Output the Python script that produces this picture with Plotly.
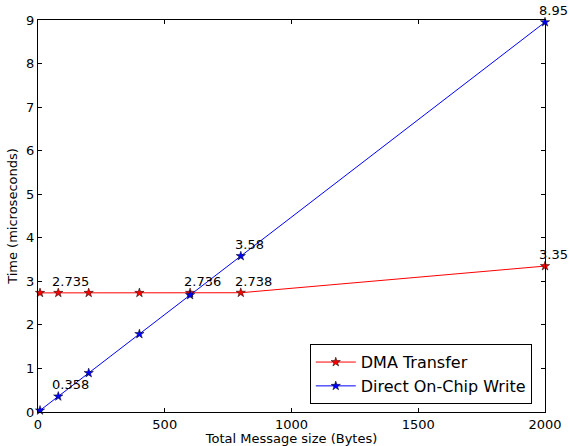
import plotly.graph_objects as go

sizes = [8, 80, 200, 400, 600, 800, 2000]
dma = [2.735, 2.735, 2.735, 2.735, 2.736, 2.738, 3.35]
direct = [0.036, 0.358, 0.895, 1.79, 2.685, 3.58, 8.95]

dma_labels_x = [80, 600, 800, 2000]
dma_labels = ["2.735", "2.736", "2.738", "3.35"]
dma_labels_y = [2.735, 2.736, 2.738, 3.35]
direct_labels_x = [80, 800, 2000]
direct_labels_y = [0.358, 3.58, 8.95]
direct_labels = ["0.358", "3.58", "8.95"]

font = "DejaVu Sans"

fig = go.Figure()
fig.add_trace(go.Scatter(x=sizes, y=dma, mode="lines+markers", name="DMA Transfer",
                         line=dict(color="#ff0000", width=1), cliponaxis=False,
                         marker=dict(symbol="star", size=7, color="#ff0000",
                                     line=dict(color="black", width=0.5))))
fig.add_trace(go.Scatter(x=sizes, y=direct, mode="lines+markers", name="Direct On-Chip Write",
                         line=dict(color="#0000ff", width=1), cliponaxis=False,
                         marker=dict(symbol="star", size=7, color="#0000ff",
                                     line=dict(color="black", width=0.5))))

for xs, ys, ts in [(dma_labels_x, dma_labels_y, dma_labels), (direct_labels_x, direct_labels_y, direct_labels)]:
    for x, y, t in zip(xs, ys, ts):
        fig.add_annotation(x=x, y=y, text=t, showarrow=False, xanchor="left", yanchor="bottom",
                           xshift=-8, yshift=2, font=dict(family=font, size=13, color="black"))

axis_common = dict(showgrid=False, zeroline=False, showline=True, linecolor="black", linewidth=1,
                   mirror="ticks", ticks="inside", ticklen=4, tickcolor="black", automargin=False,
                   tickfont=dict(family=font, size=13, color="black"))

fig.update_layout(
    width=570, height=446,
    margin=dict(l=38, r=25, t=20, b=34),
    plot_bgcolor="white", paper_bgcolor="white",
    xaxis=dict(range=[0, 2000], tickvals=[0, 500, 1000, 1500, 2000],
               title=dict(text="Total Message size (Bytes)", font=dict(family=font, size=13, color="black"), standoff=2),
               **axis_common),
    yaxis=dict(range=[0, 9], tickvals=list(range(10)),
               title=dict(text="Time (microseconds)", font=dict(family=font, size=13, color="black"), standoff=5),
               **axis_common),
    legend=dict(x=0.536, y=0.02, xanchor="left", yanchor="bottom",
                bordercolor="black", borderwidth=1, bgcolor="white",
                font=dict(family=font, size=16, color="black"), itemwidth=40, tracegroupgap=0),
    showlegend=True,
)

fig.write_html("out.html", config={"displayModeBar": False},
               post_script="document.body.style.margin='0';document.body.style.overflow='hidden';")
